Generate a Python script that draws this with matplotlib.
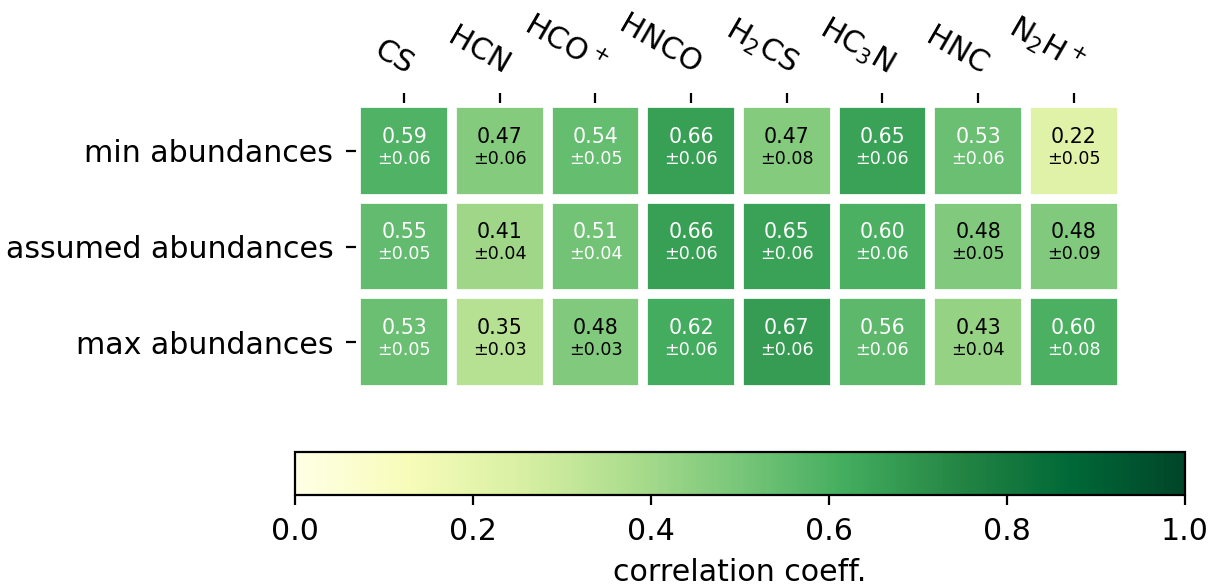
import numpy as np
import matplotlib.pyplot as plt

# molecules and abundance cases
molecules = ['CS', 'HCN', 'HCO$^+$', 'HNCO', 'H$_2$CS', 'HC$_3$N', 'HNC', 'N$_2$H$^+$']
cases = ['min abundances', 'assumed abundances', 'max abundances']

# correlation coefficients and their errors, one list per case
corr_min = [0.59, 0.47, 0.54, 0.66, 0.47, 0.65, 0.53, 0.22]
corr_assumed = [0.55, 0.41, 0.51, 0.66, 0.65, 0.60, 0.48, 0.48]
corr_max = [0.53, 0.35, 0.48, 0.62, 0.67, 0.56, 0.43, 0.60]
err_min = [0.06, 0.06, 0.05, 0.06, 0.08, 0.06, 0.06, 0.05]
err_assumed = [0.05, 0.04, 0.04, 0.06, 0.06, 0.06, 0.05, 0.09]
err_max = [0.05, 0.03, 0.03, 0.06, 0.06, 0.06, 0.04, 0.08]

corr = np.array([corr_min, corr_assumed, corr_max])
err = np.array([err_min, err_assumed, err_max])

DPI = 200
fig = plt.figure(figsize=(1217 / DPI, 588 / DPI), dpi=DPI)
ax = fig.add_axes([0.2917, 0.3367, 0.631, 0.488])
cax = fig.add_axes([0.2424, 0.1582, 0.7313, 0.0731])

im = ax.imshow(corr, cmap='YlGn', vmin=0, vmax=1)

# labels on top
ax.set_xticks(np.arange(len(molecules)))
ax.set_yticks(np.arange(len(cases)))
ax.set_xticklabels(molecules, fontsize=10.8)
ax.set_yticklabels(cases, fontsize=10.8)
ax.tick_params(top=True, bottom=False, labeltop=True, labelbottom=False, pad=4.8)
plt.setp(ax.get_xticklabels(), rotation=-30, ha='right', rotation_mode='anchor')

# white gaps between cells
for s in ax.spines.values():
    s.set_visible(False)
ax.set_xticks(np.arange(corr.shape[1] + 1) - 0.5, minor=True)
ax.set_yticks(np.arange(corr.shape[0] + 1) - 0.5, minor=True)
ax.grid(which='minor', color='w', linestyle='-', linewidth=3.5)
ax.tick_params(which='minor', top=False, bottom=False, left=False)

# annotate cells
for i in range(corr.shape[0]):
    for j in range(corr.shape[1]):
        c = 'white' if corr[i, j] > 0.5 else 'black'
        ax.text(j, i - 0.15, f'{corr[i, j]:.2f}', ha='center', va='center',
                color=c, fontsize=7.4)
        ax.text(j, i + 0.08, f'±{err[i, j]:.2f}', ha='center', va='center',
                color=c, fontsize=6.3)

cbar = fig.colorbar(im, cax=cax, orientation='horizontal')
cbar.set_ticks([0.0, 0.2, 0.4, 0.6, 0.8, 1.0])
cbar.ax.tick_params(labelsize=10.8, pad=4.6)
cbar.set_label('correlation coeff.', fontsize=10.8)

fig.savefig('out.png', dpi=DPI)
